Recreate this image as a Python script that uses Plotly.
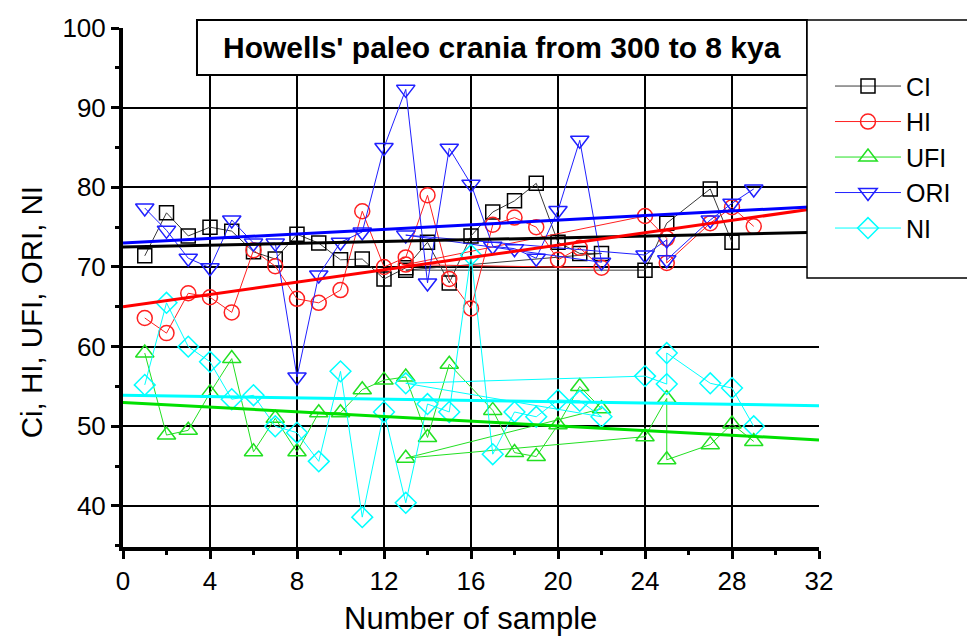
import plotly.graph_objects as go

# ---------------- data ----------------
sample_no = [1, 2, 3, 4, 5, 6, 7, 8, 9, 10, 11, 12, 13, 14, 15, 16, 17, 18, 19, 20, 21, 22,
             13, 24, 25, 25, 27, 28, 29]

CI = [71.4, 76.8, 73.9, 75.0, 74.5, 71.9, 71.0, 74.1, 73.0, 70.9, 71.0, 68.5, 69.9, 73.1, 68.0,
      73.9, 76.9, 78.3, 80.5, 73.1, 71.7, 71.7, 69.6, 69.6, 75.5, None, 79.8, 73.1, None]
HI = [63.6, 61.7, 66.7, 66.2, 64.3, 72.1, 70.1, 66.0, 65.5, 67.1, 77.0, 70.0, 71.2, 79.0, 68.5,
      64.8, 75.3, 76.2, 75.0, 70.9, 72.4, 69.9, 70.3, 76.4, 73.6, 70.5, 75.5, 77.5, 75.1]
UFI = [59.2, 48.9, 49.5, 54.2, 58.5, 46.8, 51.0, 46.8, 51.7, 51.7, 54.6, 55.8, 56.2, 48.6, 57.8,
       None, 52.0, 46.7, 46.2, 50.2, 55.0, 52.2, 46.0, 48.7, 53.5, 45.8, 47.7, 50.3, 48.1]
ORI = [77.4, 74.6, 71.1, 69.9, 75.9, 73.0, 73.0, 56.2, 69.0, 73.1, 74.4, 85.0, 92.3, 68.0, 84.9,
       80.4, 72.6, 72.3, 71.1, 77.1, 85.9, 70.6, 74.0, 71.5, 73.4, 70.9, 75.9, 78.0, 79.8]
NI = [55.2, 65.5, 60.0, 58.1, 53.4, 53.9, 50.0, 49.2, 45.6, 56.9, 38.6, 51.8, 40.4, 52.8, 51.8,
      71.5, 46.5, 51.8, 51.2, 53.3, 53.2, 51.2, 55.4, 56.3, 55.3, 59.2, 55.4, 54.8, 50.0]

series_names = ["CI", "HI", "UFI", "ORI", "NI"]
series_values = [CI, HI, UFI, ORI, NI]

# linear fits (intercept, slope)
fit_intercept = [72.5, 65.0, 53.0, 73.0, 53.9]
fit_slope = [0.058, 0.3875, -0.147, 0.144, -0.041]
fit_x = [0, 32]

x_ticks = [0, 4, 8, 12, 16, 20, 24, 28, 32]
y_ticks = [40, 50, 60, 70, 80, 90, 100]

title_text = "Howells' paleo crania from 300 to 8 kya"
x_title = "Number of sample"
y_title = "Ci, HI, UFI, ORI, NI"

# ---------------- styles ----------------
line_colors = ["#3a3a3a", "#ff2020", "#22e022", "#2020ff", "#00ffff"]
marker_colors = ["#000000", "#ff2020", "#22e022", "#2020ff", "#00ffff"]
fit_colors = ["#000000", "#ff0000", "#00e000", "#0000ff", "#00ffff"]
symbols = ["square-open", "circle-open", "triangle-up-open", "triangle-down-open", "diamond-open"]
sizes = [14, 15, 16, 16, 16]
FONT = "Liberation Sans, Arial, sans-serif"

fig = go.Figure()

for name, vals, lc, mc, sym, sz in zip(series_names, series_values, line_colors,
                                         marker_colors, symbols, sizes):
    fig.add_trace(go.Scatter(
        x=sample_no, y=vals, name=name, mode="lines+markers",
        connectgaps=True,
        line=dict(color=lc, width=1),
        marker=dict(symbol=sym, size=sz, color=mc, line=dict(color=mc, width=1.5)),
        cliponaxis=False,
    ))

for b, m, c in zip(fit_intercept, fit_slope, fit_colors):
    fig.add_trace(go.Scatter(
        x=fit_x, y=[b + m * xv for xv in fit_x], mode="lines",
        line=dict(color=c, width=3), showlegend=False, hoverinfo="skip",
    ))

# vertical grid lines (no line at the right edge)
shapes = []
for xv in x_ticks[1:-1]:
    shapes.append(dict(type="line", xref="x", yref="paper", x0=xv, x1=xv, y0=0, y1=1,
                       line=dict(color="black", width=2), layer="below"))

# title box and legend box
shapes.append(dict(type="rect", xref="paper", yref="paper", x0=0.1063, x1=0.9828,
                   y0=0.9094, y1=1.0154, fillcolor="white",
                   line=dict(color="black", width=2), layer="above"))
shapes.append(dict(type="rect", xref="paper", yref="paper", x0=0.9828, x1=1.30,
                   y0=0.5183, y1=1.0154, fillcolor="white",
                   line=dict(color="black", width=1.5), layer="above"))

fig.update_layout(
    width=967, height=638,
    margin=dict(l=123, r=148, t=28, b=91, autoexpand=False),
    paper_bgcolor="white", plot_bgcolor="white",
    font=dict(family=FONT, color="black"),
    shapes=shapes,
    showlegend=True,
    legend=dict(x=1.0158, xanchor="left", y=0.932, yanchor="top",
                bgcolor="rgba(0,0,0,0)", borderwidth=0,
                font=dict(size=25, family=FONT), itemwidth=66, tracegroupgap=0),
    annotations=[
        dict(text="<b>" + title_text + "</b>", xref="paper", yref="paper",
             x=0.5446, y=0.9624, xanchor="center", yanchor="middle",
             showarrow=False, font=dict(size=30, family=FONT, color="black")),
        dict(text=y_title, xref="paper", yref="paper", textangle=-90,
             x=-0.1315, y=0.453, xanchor="center", yanchor="middle",
             showarrow=False, font=dict(size=29.5, family=FONT, color="black")),
        dict(text=x_title, xref="paper", yref="paper",
             x=0.4986, y=-0.1385, xanchor="center", yanchor="middle",
             showarrow=False, font=dict(size=31, family=FONT, color="black")),
    ],
)

fig.update_xaxes(
    range=[0, 32], tickmode="array", tickvals=x_ticks,
    ticks="outside", ticklen=8, tickwidth=3, tickcolor="black",
    showline=True, linewidth=4, linecolor="black", showgrid=False, zeroline=False,
    tickfont=dict(size=26, family=FONT),
    minor=dict(dtick=2, tick0=0, ticks="outside", ticklen=4, tickwidth=3, tickcolor="black",
               showgrid=False),
)
fig.update_yaxes(
    range=[34.85, 100], tickmode="array", tickvals=y_ticks,
    ticks="outside", ticklen=8, tickwidth=3, tickcolor="black",
    showline=True, linewidth=4, linecolor="black",
    showgrid=True, gridcolor="black", gridwidth=2, zeroline=False,
    tickfont=dict(size=26, family=FONT),
    minor=dict(dtick=5, tick0=0, ticks="outside", ticklen=4, tickwidth=3, tickcolor="black",
               showgrid=False),
)

fig.write_html("out.html")
